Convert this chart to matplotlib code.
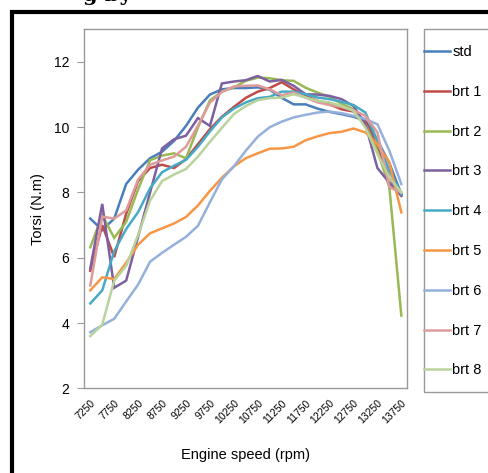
import numpy as np
import matplotlib
matplotlib.use('Agg')
import matplotlib.pyplot as plt
from matplotlib.patches import Rectangle

plt.rcParams['font.family'] = ['Liberation Sans', 'DejaVu Sans']

## Categorias (rpm)
rpm = [7250, 7500, 7750, 8000, 8250, 8500, 8750, 9000, 9250, 9500, 9750,
       10000, 10250, 10500, 10750, 11000, 11250, 11500, 11750, 12000,
       12250, 12500, 12750, 13000, 13250, 13500, 13750]

## Torsi (N.m) por serie
std  = [7.2, 6.85, 7.2, 8.26, 8.7, 9.05, 9.25, 9.58, 10.04, 10.6, 11.0, 11.16, 11.2,
        11.2, 11.22, 11.15, 10.9, 10.7, 10.7, 10.57, 10.47, 10.4, 10.32, 10.2, 9.6, 8.9, 7.95]
brt1 = [5.6, 7.0, 6.02, 7.35, 8.35, 8.75, 8.85, 8.75, 9.02, 9.48, 9.94, 10.32, 10.62,
        10.9, 11.09, 11.2, 11.38, 11.16, 10.96, 10.81, 10.7, 10.55, 10.48, 10.2, 9.38, 8.46, 7.9]
brt2 = [6.32, 7.3, 6.61, 7.1, 8.1, 8.99, 9.13, 9.2, 9.05, 9.99, 10.82, 11.09, 11.22,
        11.42, 11.52, 11.5, 11.44, 11.42, 11.21, 11.06, 10.93, 10.72, 10.55, 10.09, 9.28, 8.16, 4.23]
brt3 = [5.67, 7.65, 5.08, 5.3, 6.65, 8.0, 9.35, 9.63, 9.74, 10.28, 10.04, 11.34, 11.4,
        11.44, 11.57, 11.4, 11.45, 11.27, 11.01, 11.0, 10.96, 10.86, 10.65, 10.09, 8.75, 8.3, 7.9]
brt4 = [4.6, 5.0, 6.2, 6.88, 7.4, 8.13, 8.62, 8.82, 9.0, 9.4, 9.87, 10.3, 10.57,
        10.76, 10.89, 10.93, 11.09, 11.09, 11.01, 10.91, 10.86, 10.78, 10.68, 10.45, 9.58, 8.67, 7.95]
brt5 = [5.0, 5.4, 5.35, 5.85, 6.4, 6.75, 6.9, 7.05, 7.25, 7.6, 8.05, 8.45, 8.8,
        9.05, 9.2, 9.34, 9.35, 9.4, 9.6, 9.72, 9.82, 9.86, 9.96, 9.84, 9.48, 8.92, 7.39]
brt6 = [3.72, 3.93, 4.13, 4.66, 5.18, 5.88, 6.15, 6.4, 6.64, 6.98, 7.7, 8.4, 8.8,
        9.28, 9.71, 10.0, 10.17, 10.3, 10.38, 10.45, 10.48, 10.43, 10.35, 10.25, 10.09, 9.28, 8.26]
brt7 = [5.15, 7.26, 7.2, 7.45, 8.4, 8.85, 8.98, 9.1, 9.4, 10.05, 10.75, 11.08, 11.25,
        11.27, 11.28, 11.16, 10.98, 11.06, 10.91, 10.76, 10.68, 10.62, 10.52, 10.35, 9.84, 8.16, 8.0]
brt8 = [3.6, 3.95, 5.3, 5.75, 6.7, 7.75, 8.35, 8.55, 8.72, 9.1, 9.55, 9.98, 10.4,
        10.65, 10.83, 10.89, 10.91, 11.01, 10.91, 10.81, 10.76, 10.65, 10.5, 9.99, 9.18, 8.46, 8.0]

names  = ['std', 'brt 1', 'brt 2', 'brt 3', 'brt 4', 'brt 5', 'brt 6', 'brt 7', 'brt 8']
series = [std, brt1, brt2, brt3, brt4, brt5, brt6, brt7, brt8]
colors = ['#4A7EBB', '#BE4B48', '#98B954', '#7D60A0', '#46AAC5', '#F79646',
          '#95B0DA', '#DD9C9B', '#B9D39C']

W, H = 489, 473
fig = plt.figure(figsize=(W/100, H/100), dpi=100)

## Marco negro del documento
fig.patches.append(Rectangle((12/W, -0.1), 1.2, 1 - 12/H + 0.1, transform=fig.transFigure,
                             fill=False, edgecolor='black', linewidth=3))
## Fragmento del titulo (cortado arriba, como en la imagen)
fig.text(83/W, 1 - 1/H, 'g by', fontsize=15, fontweight='bold', family='DejaVu Serif',
         va='baseline', ha='left', color='black')

ax = fig.add_axes([84.3/W, 1 - 388.3/H, (407.3-84.3)/W, (388.3-29.3)/H])
x = np.arange(len(rpm))
lines = []
for s, c, n in zip(series, colors, names):
    l, = ax.plot(x, s, color=c, linewidth=1.8, label=n, solid_joinstyle='miter')
    lines.append(l)

ax.set_xlim(-0.5, len(rpm) - 0.5)
ax.set_ylim(2, 13)
ax.set_yticks([2, 4, 6, 8, 10, 12])
ax.set_xticks(x[::2])
ax.set_xticklabels([str(r) for r in rpm[::2]], rotation=45, ha='right',
                   rotation_mode='anchor', fontsize=7.5)
ax.tick_params(axis='x', length=0, pad=7)
ax.tick_params(axis='y', length=5, color='#999999', labelsize=10, pad=6)
for sp in ax.spines.values():
    sp.set_color('#999999')
    sp.set_linewidth(1)
ax.set_ylabel('Torsi (N.m)', fontsize=10.5, labelpad=6)
ax.set_xlabel('Engine speed (rpm)', fontsize=10.5, labelpad=16)

## Caja de leyenda (cortada a la derecha)
fig.patches.append(Rectangle((424.3/W, 1 - 392/H), 0.5, (392-29.3)/H, transform=fig.transFigure,
                             fill=False, edgecolor='#999999', linewidth=1))
fig.legend(handles=lines, loc='upper left', bbox_to_anchor=(424/W, 1 - 45/H),
           frameon=False, fontsize=10.5, handlelength=1.75, handletextpad=0.2,
           labelspacing=1.77, borderaxespad=0, borderpad=0)

fig.savefig('out.png', dpi=100)
